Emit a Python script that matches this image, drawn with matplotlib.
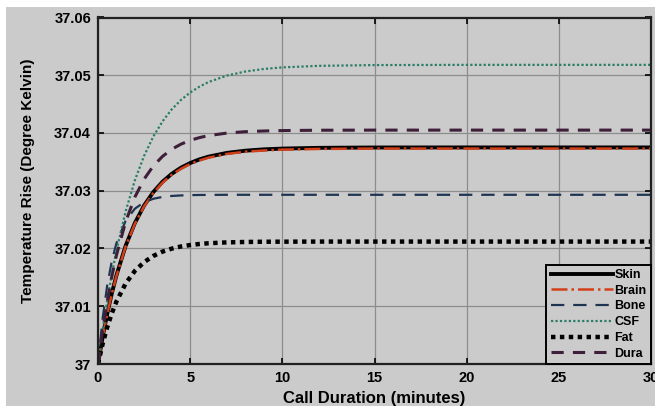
import numpy as np
import matplotlib
matplotlib.use('Agg')
import matplotlib.pyplot as plt
from matplotlib.patches import Rectangle
from matplotlib.ticker import FormatStrFormatter

# time axis (minutes)
t = [0, 0.25, 0.5, 0.75, 1, 1.5, 2, 2.5, 3, 3.5, 4, 4.5, 5, 5.5, 6, 7, 8, 9, 10, 12, 15, 20, 25, 30]

# temperature rise above 37 K
skin = [0, 0.00462, 0.00868, 0.01223, 0.01534, 0.02047, 0.02441, 0.02744, 0.02977, 0.03156,
        0.03293, 0.03399, 0.03480, 0.03543, 0.03591, 0.03656, 0.03694, 0.03717, 0.03730, 0.03743,
        0.03749, 0.0375, 0.0375, 0.0375]
brain = [0, 0.00458, 0.00862, 0.01215, 0.01524, 0.02035, 0.02428, 0.02730, 0.02962, 0.03140,
         0.03276, 0.03380, 0.03462, 0.03524, 0.03573, 0.03638, 0.03676, 0.03697, 0.03712, 0.03724,
         0.03730, 0.0373, 0.0373, 0.0373]
bone = [0, 0.00786, 0.01362, 0.01783, 0.02091, 0.02481, 0.02689, 0.02801, 0.02861, 0.02893,
        0.02910, 0.02919, 0.02924, 0.02927, 0.02928, 0.0293, 0.0293, 0.0293, 0.0293, 0.0293,
        0.0293, 0.0293, 0.0293, 0.0293]
csf = [0, 0.00581, 0.01098, 0.01556, 0.01963, 0.02644, 0.03181, 0.03604, 0.03938, 0.04201,
       0.04409, 0.04572, 0.04701, 0.04802, 0.04883, 0.04995, 0.05065, 0.05109, 0.05136, 0.05163,
       0.05176, 0.0518, 0.0518, 0.0518]
fat = [0, 0.00347, 0.00637, 0.00879, 0.01082, 0.01394, 0.01612, 0.01764, 0.01871, 0.01946,
       0.01998, 0.02035, 0.02060, 0.02078, 0.02091, 0.02106, 0.02113, 0.02117, 0.02118, 0.0212,
       0.0212, 0.0212, 0.0212, 0.0212]
dura = [0, 0.00586, 0.01087, 0.01516, 0.01882, 0.02464, 0.02890, 0.03201, 0.03429, 0.03595,
        0.03718, 0.03807, 0.03872, 0.03920, 0.03955, 0.03999, 0.04023, 0.04035, 0.04042, 0.04048,
        0.0405, 0.0405, 0.0405, 0.0405]

base = 37.0
bg = '#cbcbcb'

plt.rcParams['font.family'] = ['Liberation Sans', 'DejaVu Sans']
plt.rcParams['font.weight'] = 'bold'

fig = plt.figure(figsize=(6.55, 4.12), dpi=100, facecolor='white')
fig.patches.append(Rectangle((6/655, 6/412), 1, 399/412, transform=fig.transFigure,
                             facecolor=bg, edgecolor='none', zorder=-1))

ax = fig.add_axes([98/655, 1 - 364/412, 553/655, 346.5/412])
ax.set_facecolor(bg)

tt = np.array(t)
ax.plot(tt, base + np.array(skin), color='black', lw=2.8, ls='-', label='Skin')
ax.plot(tt, base + np.array(brain), color='#d2401a', lw=1.8, ls='-.', label='Brain')
ax.plot(tt, base + np.array(bone), color='#1e3552', lw=1.6, ls=(0, (6, 4)), label='Bone')
ax.plot(tt, base + np.array(csf), color='#2a7d66', lw=1.6, ls=(0, (1, 1)), label='CSF')
ax.plot(tt, base + np.array(fat), color='black', lw=3.2, ls=(0, (1, 1)), label='Fat')
ax.plot(tt, base + np.array(dura), color='#3e1f3a', lw=2.2, ls=(0, (4, 3)), label='Dura')

ax.set_xlim(0, 30)
ax.set_ylim(37.0, 37.06)
ax.set_xticks([0, 5, 10, 15, 20, 25, 30])
ax.set_yticks([37.0, 37.01, 37.02, 37.03, 37.04, 37.05, 37.06])
ax.yaxis.set_major_formatter(FormatStrFormatter('%g'))
ax.grid(True, color='#8c8c8c', lw=0.9)
ax.tick_params(direction='in', top=True, right=True, labelsize=10.5, length=4, width=1.2, pad=5)
for s in ax.spines.values():
    s.set_linewidth(1.6)
    s.set_color('#202020')

ax.set_xlabel('Call Duration (minutes)', fontsize=12, fontweight='bold', labelpad=4)
ax.set_ylabel('Temperature Rise (Degree Kelvin)', fontsize=11, fontweight='bold')
ax.yaxis.set_label_coords(-0.114, 0.528)

leg = ax.legend(loc='lower right', borderaxespad=0, fontsize=9, handlelength=5.0,
                handletextpad=0.1, labelspacing=0.3, fancybox=False, facecolor=bg,
                framealpha=1, edgecolor='black', borderpad=0.35)
leg.get_frame().set_linewidth(1.4)

fig.savefig('out.png', dpi=100, facecolor=fig.get_facecolor())
